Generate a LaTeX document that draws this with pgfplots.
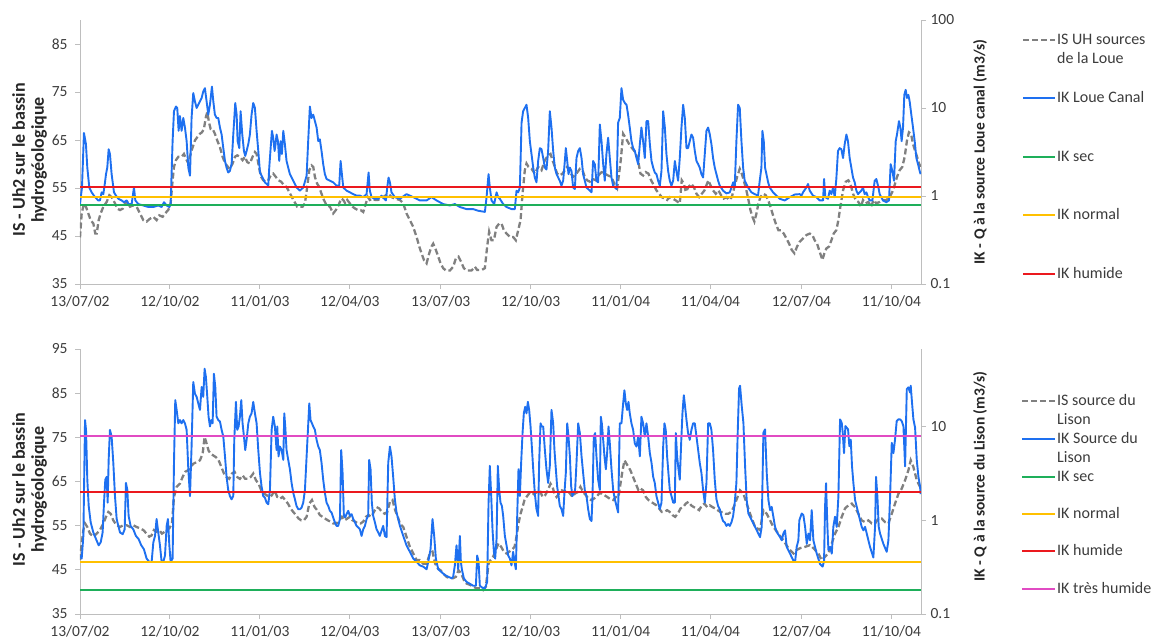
\documentclass[border=0pt]{standalone}
\usepackage{fontspec}
\setmainfont{Carlito}
\usepackage{pgfplots}
\usepackage{pgfplotstable}
\pgfplotsset{compat=1.18}

\definecolor{ikblue}{RGB}{30,112,240}
\definecolor{isgray}{RGB}{128,128,128}
\definecolor{ikred}{RGB}{235,25,30}
\definecolor{ikyellow}{RGB}{255,192,0}
\definecolor{ikgreen}{RGB}{30,175,90}
\definecolor{ikpink}{RGB}{225,75,195}
\definecolor{axgray}{RGB}{190,190,190}
\definecolor{txt}{RGB}{60,60,60}
\newcommand\tlfont{\fontsize{15.5}{18}\selectfont}

% ---------------- top panel : IK Loue Canal (m3/s) ----------------
\pgfplotstableread{
d q
0 0.81
2 1.25
4 5.2
6 3.9
7.4 2.1
9.4 1.25
11.8 1.1
15.2 0.97
18.5 0.89
20.2 0.89
21.9 1.1
23.6 1.05
25.3 1.43
26.3 1.77
27.6 2.1
29 3.4
30.3 3.0
32 1.77
34.4 1.1
36.4 1.01
38.8 0.93
42.1 0.89
44.5 0.85
47.2 0.89
48.9 0.81
52.3 0.81
54.6 1.25
56 0.89
59 0.81
64.1 0.78
69.1 0.75
74.2 0.75
79.2 0.78
82.6 0.75
85 0.85
87.7 0.78
90.4 0.75
91.7 0.8
93.7 4.2
95.1 9.2
97.1 10.4
98.4 10
99.8 5.5
101.1 8.1
102.8 5.5
104.5 7.7
106.2 6.0
107.9 4.2
109.6 2.1
111.3 1.7
112.9 7.7
114.6 14.8
116.3 11.9
118 10
119.7 10.9
121.4 11.9
123.1 13
124.7 15.4
126.4 16.8
128.1 11.9
129.8 8.4
131.5 10.9
133.5 17.5
134.9 11.9
136.5 8.4
138.2 7.7
139.9 7.7
141.6 6.0
143.3 5.0
145 3.5
146.7 2.5
148.3 2.1
150 1.85
151.7 1.93
153.4 2.3
155.1 5.0
157.1 11.4
158.5 8.4
159.5 4.2
161.2 3.5
162.5 9.2
164.2 5.0
165.9 3.25
167.2 2.85
168.6 3.25
170.3 3.9
171.9 5.0
173.6 8.4
175.3 11.4
177 10
178.7 5.5
180.4 3.25
182.1 1.85
183.7 1.7
185.4 1.56
187.1 1.43
188.8 1.37
190.5 1.31
191.5 2.1
192.9 3.5
194.2 5.5
195.5 4.6
196.9 3.25
197.9 3.9
198.9 5.0
200.3 4.2
201.6 2.5
203 4.2
204.3 3.0
205.7 5.5
207.3 3.9
209 2.5
210.7 2.1
212.4 1.77
215.8 1.49
219.1 1.25
222.5 1.15
225.9 1.25
229.3 1.7
230.9 4.2
232.6 10.4
234.3 7.7
236 8.4
237.7 7.1
239.4 6.0
241.1 4.2
242.7 4.4
244.4 3.25
246.1 2.3
247.8 1.77
249.5 1.56
252.9 1.49
256.2 1.43
259.6 1.31
262.3 1.31
263.7 2.5
265 1.77
266.4 1.25
269.7 1.15
273.1 1.1
276.5 1.05
279.8 1.01
283.2 1.01
286.6 0.97
290 1.05
292 1.85
293.3 1.15
295 0.97
298.4 0.93
301.8 0.93
305.1 1.01
309.5 0.89
310.9 1.25
312.2 1.62
313.6 1.43
315.2 1.1
318.6 0.97
323.7 0.93
330.4 1.05
337.2 0.97
343.9 0.89
350.7 0.89
355.7 0.97
360.8 0.89
367.5 0.81
374.3 0.78
379.3 0.81
384.4 0.75
391.1 0.71
397.9 0.71
402.9 0.68
409.7 0.66
411.4 0.97
413.4 1.77
414.7 1.25
416.4 0.89
419.1 0.81
421.5 1.1
423.2 0.97
424.8 0.93
428.2 0.81
431.6 0.75
436.6 0.71
440 0.71
441.7 1.15
443.4 1.1
445.1 1.25
446.8 6.8
448.4 9.2
450.1 10
451.8 10.9
453.5 7.7
455.2 4.2
458.6 2.1
460.2 1.62
461.9 1.43
463.6 2.5
465.3 3.5
467 3.4
468.7 2.7
470.4 2.1
472 2.0
473.7 3.25
475.4 9.2
477.1 6.0
478.8 3.25
480.5 2.1
482.2 1.77
485.5 1.49
487.2 1.31
488.9 1.49
490.6 2.5
491.6 3.5
493 2.5
494.3 1.77
495.7 2.1
497.3 1.93
499 1.25
500.7 1.2
502.4 2.7
504.1 3.25
505.8 3.5
507.5 2.7
509.1 1.77
510.8 1.49
512.5 1.25
515.9 1.15
517.6 1.1
519.2 2.5
520.9 2.3
522.6 1.49
524.3 1.43
526 6.5
527.7 4.2
529.4 2.3
531 1.49
532.7 3.0
534.4 4.6
536.1 2.7
537.8 1.62
539.5 1.31
541.2 1.25
542.9 1.2
544.5 6.8
546.2 7.7
547.9 16.8
549.6 12.4
551.3 11.4
553 10.9
554.6 8.4
556.3 6.0
558 4.2
559.7 3.5
561.4 3.25
563.1 2.7
564.8 2.3
566.5 3.9
568.1 6.0
569.8 4.2
571.5 2.7
573.2 7.1
574.9 7.1
576.6 3.9
578.3 2.5
580 2.1
581.6 1.85
583.3 1.77
585 1.49
586.7 1.31
588.4 1.93
590.1 9.2
591.8 6.0
593.4 3.0
595.1 1.93
596.8 1.49
598.5 1.31
600.2 1.49
601.9 2.5
603.5 1.93
605.2 1.49
606.9 2.7
608.6 6.0
610.3 10.9
612 7.7
613.7 3.5
615.3 3.5
617 4.2
618.7 5.0
620.4 4.6
622.1 3.25
623.8 2.5
625.5 2.3
627.1 2.1
628.8 1.77
630.5 1.62
632.2 3.0
633.9 5.5
635.6 6.0
637.3 5.0
638.9 3.9
640.6 2.7
642.3 2.1
644 1.77
645.7 1.49
647.4 1.31
650.7 1.15
654.1 1.07
657.5 1.1
659.2 1.25
660.9 1.43
662.5 1.25
664.2 4.2
665.9 10.9
667.6 10
669.3 4.2
671 2.1
672.6 1.49
676 1.25
679.4 1.1
682.8 1.05
686.1 1.01
687.8 1.49
689.5 2.1
690.5 5.5
691.9 4.2
693.2 2.1
694.6 1.77
696.3 1.43
697.9 1.25
701.3 1.1
708.1 0.93
713.1 0.89
718.2 0.97
723.3 1.04
728.3 1.05
730 1.01
731.6 1.1
735 1.25
736.7 1.37
738.4 1.15
741.7 1.01
745.1 0.97
748.5 0.89
751.9 0.89
752.9 1.56
754.2 0.97
756.9 0.93
758.6 1.15
760.3 1.05
762 1.25
763.7 0.97
765.3 1.56
767 3.25
768.7 3.5
770.4 3.4
772.1 2.7
773.8 3.9
775.5 5.0
777.1 4.2
778.8 2.7
780.5 2.1
782.2 1.62
783.9 1.43
785.6 1.15
787.3 1.05
788.9 1.1
790.6 1.15
792.3 1.25
794 1.05
795.7 1.1
797.4 0.97
799.1 0.89
801.8 0.89
804.1 1.49
805.8 1.56
807.5 1.31
809.2 1.05
812.5 0.89
815.9 0.85
818.6 0.89
820.3 2.3
822 1.93
823.7 1.49
825.4 4.2
826.7 5.0
828.7 7.1
830.1 6.0
831.4 4.2
832.8 6.0
834.1 14.1
835.5 16.1
836.8 13
838.2 14.1
839.5 11.9
841.2 8.4
842.9 6.0
844.6 4.2
846.3 2.7
848 2.3
849.6 1.93
850.6 1.77
}\topblue

% ---------------- top panel : IS UH sources de la Loue ----------------
\pgfplotstableread{
d s
0 44.7
1.7 49.7
4 51.8
6 51.1
8.4 49.7
10.8 48.3
13.5 47.6
15.5 45.5
16.9 45.5
18.9 48.3
20.9 49.7
23.6 51.1
27 52.1
29.7 53.5
32 53.1
33.7 52.5
35.4 51.8
37.8 50.7
40.5 50.4
43.2 50.7
45.5 51.8
47.9 52.1
50.6 51.1
53.9 51.4
57.3 51.1
60.7 49.7
64.1 48.3
67.4 48
70.8 48.6
74.2 49
77.5 48.3
80.2 49.3
83.6 49
86 49.7
89.3 50.4
91.7 51.8
93.7 56.6
95.1 59.4
97.1 60.8
99.5 61.5
102.8 61.5
105.2 62.1
107.2 61.1
109.6 60.1
111.9 62.1
114 63.5
116.3 64.9
118.7 65.6
121.4 66.3
123.4 66.6
125.4 67.3
127.4 69.8
128.8 70.8
130.5 68.7
132.2 67.3
134.2 67.3
136.5 66.3
138.9 64.9
141.6 63.5
144.3 61.5
147 60.1
149.7 59.4
151.7 59
154.4 60.1
156.8 61.5
159.1 61.8
161.8 61.5
164.5 60.8
166.9 61.5
169.2 60.4
171.9 60.1
174.6 61.5
177 62.5
178.7 62.1
181.4 59
183.4 57.3
185.4 56.6
188.1 56.3
190.5 56.6
192.9 57.6
195.5 58
198.2 57.3
200.9 56.6
203.6 56.3
206.3 55.6
209 55.2
211.7 54.2
214.4 53.1
217.1 52.1
219.8 51.1
222.5 51.1
225.2 51.1
227.6 51.8
229.9 55.2
232 58.7
234.3 59.7
236 59.4
237.7 57.3
240 55.9
242.1 55.2
244.4 53.8
246.8 52.5
249.5 51.4
252.9 51.1
256.2 49.7
258.9 50.4
261.6 51.4
264.3 52.8
266.4 52.5
268.4 51.8
270.4 52.5
273.1 51.8
275.8 51.1
278.5 50.7
281.2 50.4
283.9 50.4
286.6 50
289.3 51.8
291.3 53.1
293.3 52.5
296 52.8
298.7 52.5
301.4 52.5
304.1 52.8
306.8 53.1
309.5 53.5
312.2 53.8
315.2 53.1
318.6 52.8
323.7 52.5
327.1 51.8
330.4 49.7
333.8 48.3
337.2 46.9
340.6 44.8
343.3 42.8
345.6 41.4
348 40
350.7 39.3
353.4 41.4
355.7 42.8
357.4 43.4
360.1 42.1
362.5 40.7
364.8 39.3
367.5 38.3
370.2 37.8
374.3 37.8
377.6 38.6
380.3 40.3
383 40.7
385.7 39.6
388.4 38.3
391.1 37.8
396.2 37.8
399.6 38.6
401.9 37.9
406.3 37.9
409.7 38.3
412 42.8
414 45.9
416.4 44.1
418.8 44.1
421.5 46.9
424.2 47.6
426.5 47.6
428.9 46.2
431.6 45.5
435 44.8
438.3 44.8
441 44.1
443.4 46.2
445.8 48.3
447.8 53.8
450.1 58.7
451.8 60.1
453.8 59.4
456.9 59
460.2 58
463.6 59.4
467 58.7
470.4 60.8
473.7 61.8
476.1 62.1
478.1 60.8
480.5 59.4
482.8 58
485.5 57.6
488.2 58
490.6 58.7
493 59.4
495.7 58.3
499 57.3
502.4 58
505.8 59
508.5 58.7
510.8 57.3
513.2 56.6
515.9 56.3
518.6 56.9
522 56.6
524.3 57.6
527.7 58.3
531 58
534.4 57.6
537.8 57.3
541.2 55.6
543.5 54.9
545.5 58
547.2 60.8
549.6 66.3
551.6 65.6
553.6 64.9
556.3 63.9
559 63.2
561.7 62.5
564.4 61.1
567.1 58
569.8 57.6
572.5 58.3
575.2 58
577.9 56.6
580.6 55.6
583.3 54.5
586 53.8
588.7 53.1
591.4 52.8
594.1 52.5
596.8 53.1
599.5 52.8
602.2 52.5
604.9 52.1
606.9 51.8
608.9 56.6
611 55.9
613 54.2
615.7 55.2
618.4 55.9
621.1 55.2
623.8 53.8
626.5 53.1
629.2 53.8
631.9 54.5
633.9 55.6
635.9 56.6
637.9 55.6
640.6 54.5
643.3 53.8
646 54.5
648.7 53.5
651.4 52.8
654.1 53.1
656.8 52.5
659.5 53.1
662.2 55.2
664.9 57.3
667.6 59
669.6 58
671.6 56.6
674.3 54.5
676.4 52.5
678.4 50.4
680.4 49
682.4 48
684.5 49.7
686.5 51.8
688.5 53.1
691.2 53.8
693.9 53.5
696.3 52.5
698.6 51.1
701.3 49.3
704 47.6
706.7 46.2
709.4 46.2
712.1 45.5
714.8 44.5
717.5 43.4
720.2 42.1
722.9 41.4
725.6 42.8
728.3 43.8
731.6 44.5
735 45.2
738.4 45.5
741.1 45.2
743.4 44.1
745.8 43.4
748.5 41.7
751.2 40
753.2 41.4
755.2 42.4
757.9 42.8
760.3 44.1
762.6 45.5
765.3 46.2
767.4 48.3
769.4 51.1
772.1 54.5
774.8 56.3
777.5 56.6
779.5 55.9
782.2 53.8
784.9 52.5
787.6 52.1
790.3 51.1
792.3 52.5
795 51.8
797.7 52.1
800.4 51.1
803.1 52.5
805.8 51.8
809.2 52.1
812.5 52.5
815.9 52.5
819.3 53.1
822 54.2
824.3 55.6
826.7 57.3
829.4 58.7
832.1 59.4
834.5 61.5
836.8 64.9
838.8 66.6
840.9 66.3
842.9 64.2
844.9 62.8
847 61.5
849 60.1
850.6 59.4
}\topis

% ---------------- bottom panel : IK Source du Lison (m3/s) ----------------
\pgfplotstableread{
d q
0 0.42
1.7 0.39
3.4 0.68
5.1 11.7
6.1 9.2
7.4 2.7
8.8 1.42
10.8 0.95
13.5 0.74
16.2 0.63
18.9 0.54
20.9 0.58
22.9 0.74
24.3 1.54
25.6 2.7
27 2.9
28 1.54
29 4.4
30.3 9.2
32 7.8
33.7 4.1
35.4 1.81
37.1 1.03
38.8 0.87
40.5 0.74
43.2 0.71
45.2 0.8
46.5 2.5
47.9 2.1
49.2 1.11
51.2 0.87
53.9 0.8
56.6 0.68
59.3 0.63
62 0.54
64.7 0.49
67.4 0.39
70.1 0.36
72.5 0.36
74.2 0.58
75.9 0.68
77.5 1.03
79.2 0.74
80.9 0.54
82.6 0.36
84.3 0.36
86 0.42
87.7 0.87
89 1.03
90.4 0.54
91.7 0.36
93.7 0.39
95.1 4.1
96.4 19.1
97.8 15
99.5 10.8
101.1 11.7
102.8 10.8
104.5 11.7
106.2 10.8
107.9 9.2
109.6 3.5
111.3 1.81
112.9 6.1
114.6 29.8
116.3 22.4
118 20.7
119.7 17.6
121.4 15
123.1 26.4
124.7 20.7
126.1 41.3
127.4 33.7
128.8 20.7
130.1 12.7
131.5 10
132.8 11.7
134.2 10.8
135.5 36.5
136.9 26.4
138.2 12.7
139.9 11.7
141.6 11.3
143.3 9.2
145 7.8
146.7 4.8
148.3 2.9
150 2.1
151.7 1.81
153.4 1.67
155.1 1.81
156.1 7.2
157.8 18.3
159.1 9.2
160.5 10
161.8 12.7
163.2 19.1
164.5 10.8
165.9 7.8
167.2 5.6
168.6 7.2
170.3 10.8
171.9 12.7
173.6 13.8
175.3 18.3
177 13.8
178.7 10.8
180.4 5.6
182.1 3.2
183.7 2.3
185.4 1.81
187.1 1.74
188.8 1.54
190.5 1.48
192.2 2.1
193.9 9.2
195.5 12.7
197.2 10
198.9 5.6
199.6 10
200.9 4.8
202.3 6.1
204 5.6
205.7 4.4
206.7 13.8
207.7 10
209 5.6
210.7 4.4
212.4 3.5
214.1 2.5
215.8 1.96
217.5 1.67
219.1 1.42
220.8 1.31
222.5 1.31
224.2 1.36
225.9 1.54
227.6 2.1
229.3 4.8
232 17.6
233.3 11.7
234.7 10.8
236 10
237.7 9.2
239.4 7.2
241.1 6.1
242.7 5.6
244.4 4.1
246.1 2.7
247.8 1.96
249.5 1.54
251.2 1.42
252.9 1.26
254.5 1.21
256.2 1.07
257.9 0.95
259.6 0.87
261.3 0.87
263 1.03
264.3 5.6
265.7 3.2
267 1.11
268.4 1.07
269.7 1.16
271.4 1.26
273.1 1.11
274.8 1.16
276.5 1.03
278.2 0.95
279.8 0.87
281.5 0.84
283.2 0.8
284.9 0.68
286.6 0.8
288.3 0.87
290 1.03
291.6 1.11
292.6 4.4
294 3.5
295.3 1.54
296.7 1.11
298.4 0.95
300.1 0.8
301.8 0.74
303.4 0.68
305.1 0.77
306.8 0.87
308.5 0.68
310.2 0.66
311.9 4.1
313.6 6.1
315.2 4.8
316.9 2.9
318.6 1.67
320.3 1.21
322 1.03
323.7 0.87
327.1 0.68
330.4 0.54
333.8 0.46
337.2 0.39
340.6 0.36
343.9 0.33
347.3 0.32
350.7 0.3
352.4 0.36
354.7 0.49
356.7 1.03
358.4 0.68
360.1 0.39
362.5 0.3
365.8 0.28
369.2 0.26
372.6 0.25
376 0.24
377.6 0.25
379.3 0.33
381 0.54
382.7 0.3
384.4 0.68
385.4 0.36
386.4 0.3
388.4 0.24
391.1 0.22
394.5 0.21
397.9 0.2
400.6 0.2
401.9 0.42
403.3 0.36
404.6 0.2
407.3 0.19
410 0.19
412 0.22
413.4 1.54
414.7 3.8
416.1 1.81
417.4 0.8
418.8 0.46
420.1 0.39
421.5 0.63
422.8 3.8
424.2 2.1
425.5 1.54
426.9 1.42
428.2 1.11
429.9 0.68
431.6 0.54
433.3 0.42
435 0.39
436.6 0.33
438.3 0.46
439.7 0.36
441 0.3
442.4 1.11
443.7 3.5
445.1 1.81
446.4 4.1
447.8 8.5
449.1 13.8
450.5 16.2
451.8 13.8
453.2 18.3
454.5 15
455.9 10
457.2 6.1
458.6 3.5
460.2 1.96
461.9 1.31
463.6 1.11
464.6 4.1
466 10.8
467.3 10
468.7 10
470.4 5.6
472 3.5
473.7 2.5
475.4 3.8
477.1 15
478.8 10.8
480.1 5.6
481.5 3.5
482.8 2.3
484.2 1.81
485.5 1.42
487.2 1.31
488.9 1.11
490.2 1.96
491.6 3.2
493 10.8
494.3 7.8
495.7 4.8
497 2.3
498.3 1.81
499.7 1.96
501 2.1
502.4 4.1
504.1 10.8
505.8 8.5
507.5 4.8
509.1 3.2
510.8 2.1
512.5 1.81
514.2 1.31
515.9 1.03
517.6 0.98
518.6 1.81
519.9 7.8
521.3 8.5
522.6 4.8
524.3 2.7
526 2.1
527 12.7
528 10.8
529.4 7.2
530.7 4.8
532.1 3.5
533.4 5.2
534.8 10
536.1 6.6
537.8 3.5
539.5 2.1
541.2 1.67
542.9 1.42
544.5 1.21
546.2 10.8
547.9 10.8
549.6 17.6
550.9 24.3
552.3 17.6
553.6 15
555 18.3
556.3 13.8
558 10.8
559.7 9.2
561.4 6.6
563.1 6.1
564.8 7.8
566.5 4.8
568.1 12.7
569.8 10.8
571.5 7.8
573.2 10.8
574.9 7.8
576.6 5.2
578.3 4.1
580 2.9
581.6 2.5
583.3 1.81
585 1.54
586.7 1.31
588.4 1.54
590.1 6.1
591.4 10.8
592.7 9.2
594.1 4.8
595.4 3.2
596.8 2.1
598.5 1.81
600.2 1.54
601.9 1.54
602.9 8.5
604.2 4.8
605.6 3.5
606.9 2.7
608.3 6.6
609.6 13.8
611 21.5
612.3 16.2
613.7 11.7
615.3 8.5
617 7.2
618.7 9.2
620.4 10.8
622.1 10.8
623.8 7.8
625.5 5.6
627.1 4.1
628.8 3.2
630.5 2.1
632.2 1.54
633.9 2.5
635.6 10.8
637.3 10.8
638.9 9.2
640.6 5.6
642.3 2.7
644 1.67
645.7 1.42
647.4 1.31
649 1.11
650.7 0.98
652.4 0.95
654.1 0.87
655.8 0.91
657.5 0.87
659.2 0.95
660.9 1.11
662.5 1.54
664.2 2.5
665.6 9.2
666.9 25.4
667.9 27.2
669.6 16.5
671.3 10.9
673 3.75
674.6 1.64
676.3 1.18
678 1.09
681.4 0.92
684.8 0.78
688.1 0.66
689.8 0.85
691.5 8.55
693.2 9.3
694.9 3.17
696.6 1.64
698.3 1.28
699.9 1.39
701.6 1.09
703.3 0.85
705 0.75
708.4 0.66
710.1 0.61
711.7 0.72
713.4 0.78
715.1 0.52
718.5 0.44
721.9 0.37
723.6 0.36
725.2 0.52
726.9 0.61
727.9 1.0
730.3 1.18
732 1.13
733.7 0.85
735.4 0.56
737.1 0.72
738.7 0.61
740.4 1.28
742.1 0.61
745.5 0.44
748.9 0.34
751.5 0.32
752.9 0.37
753.9 1.39
754.9 2.48
756.3 0.85
757.3 0.48
759 0.52
760.7 0.44
762.3 0.85
764 1.09
765.7 0.85
767.4 1.78
769.1 11.9
770.8 10.9
771.8 8.55
773.1 5.2
774.5 10.1
775.8 9.7
777.2 9.3
778.5 6.15
779.9 7.25
781.2 3.75
782.6 2.48
784.3 1.64
786 1.39
787.6 1.18
789.3 1.0
791 0.85
792.7 0.78
794.4 0.85
796.1 0.72
799.4 0.52
802.8 0.40
804.5 0.85
805.5 2.9
806.9 1.78
808.2 0.85
809.6 0.72
812.9 0.56
816.3 0.46
818 0.61
819.7 1.78
821.4 6.7
823.1 5.2
824.7 7.25
826.4 11.4
828.1 11.9
829.8 11.9
831.5 11.4
833.2 10.1
834.9 3.75
836.6 25
838.2 26.1
839.9 23
840.6 27.2
841.9 18
843.3 11.9
845 9.7
846.7 4.4
848.4 2.9
850 2.3
850.6 1.9
}\botblue

% ---------------- bottom panel : IS source du Lison ----------------
\pgfplotstableread{
d s
0 47.2
1.7 51.0
3.4 54.0
5.1 55.5
7.4 54.7
10.1 53.2
13.5 52.5
16.9 53.2
20.2 54.0
23.6 55.5
26.3 57.0
28.7 58.1
31 57.7
33.7 56.2
37.1 55.1
40.5 54.7
43.8 55.1
47.2 55.1
50.6 54.7
53.9 55.1
57.3 54.7
60.7 54.4
64.1 54.0
67.4 53.2
70.1 52.5
72.5 52.8
74.8 54.0
77.5 53.6
80.2 54.0
82.9 53.2
85.6 53.6
87.7 54.0
90.4 54.4
93.1 55.5
95.1 61.5
97.8 63.8
101.1 64.5
103.8 66.0
106.5 67.2
109.2 67.5
111.9 68.3
114.6 69.0
118 69.4
121.4 69.8
124.1 71.3
126.1 75.1
128.1 73.6
130.1 72.0
132.2 71.3
134.9 70.9
137.6 70.5
140.3 69.8
143 68.3
145.7 66.8
148.3 66.0
151 65.6
153.7 66.8
156.4 67.2
159.1 66.0
161.8 65.6
164.5 66.4
167.2 65.6
169.9 65.6
172.6 66.0
175.3 66.8
178 65.3
180.7 64.5
183.4 63.0
186.1 62.3
188.8 61.9
191.5 61.5
194.2 61.9
196.9 63.0
199.6 61.5
202.3 61.1
205 61.5
207.7 60.8
210.4 60.0
213.1 58.9
215.8 58.1
218.5 57.4
221.2 56.6
223.9 56.2
226.5 56.2
229.3 57.0
232 60.0
234.7 60.8
237.4 59.2
240 58.5
242.7 57.4
245.4 57.0
248.1 56.6
250.8 56.2
253.5 55.9
256.2 55.5
259.6 55.5
262.3 56.2
265 57.0
267.7 56.2
270.4 56.6
273.1 57.0
275.8 56.2
278.5 55.9
281.2 55.5
283.9 55.5
286.6 55.9
289.3 57.0
292 57.4
294.7 57.0
297.4 58.1
300.1 59.2
302.8 58.9
305.5 58.1
308.2 57.7
310.9 58.1
313.6 60.4
316.2 60.8
318.9 58.5
321.6 57.0
323.7 55.5
327.1 54.7
330.4 52.5
333.8 50.2
337.2 48.7
340.6 47.2
343.9 47.2
347.3 46.4
350.7 46.4
354 48.7
356.7 49.1
359.4 46.4
362.1 45.3
364.8 44.9
367.5 44.2
370.9 43.4
374.3 43.1
377.6 43.1
380.3 43.4
383 44.9
385.7 44.2
388.4 42.7
391.1 41.9
394.5 41.6
397.9 41.2
401.2 40.8
404.6 40.8
408 40.4
410.7 41.2
413.4 46.4
415.4 47.2
418.1 48.0
420.8 49.5
423.5 51.0
426.2 50.2
428.9 49.1
431.6 48.7
434.3 49.1
437 49.5
439.7 50.2
441.7 52.5
443.7 55.5
445.8 57.7
447.8 59.2
449.8 60.8
451.8 61.5
454.5 62.3
457.2 61.9
459.9 62.3
462.6 62.6
465.3 63.0
468 61.5
470.7 61.9
473.4 63.0
476.1 64.5
478.1 63.8
480.1 62.3
482.2 61.5
484.9 62.3
487.6 63.0
490.2 62.6
493 63.0
495.7 62.3
498.3 61.5
501 62.3
503.7 62.6
506.4 63.8
509.1 62.6
511.8 61.9
514.5 61.1
517.2 60.8
519.9 61.1
522.6 61.5
525.3 62.3
528 62.3
530.7 61.9
533.4 61.5
536.1 61.1
539.5 60.8
542.2 61.5
544.9 61.5
546.9 64.5
549 67.5
551 69.8
553 69.0
555 68.3
557 67.5
559.7 66.0
562.4 64.5
565.1 63.0
567.1 63.4
569.8 63.0
572.5 61.5
575.2 60.8
577.9 60.4
580.6 60.0
583.3 59.6
586 58.9
588.7 58.1
591.4 58.1
594.1 58.5
596.8 58.1
599.5 57.4
602.2 57.0
604.9 57.7
607.6 58.9
610.3 59.2
613 60.0
615.7 60.4
618.4 59.6
621.1 59.2
623.8 58.9
626.5 58.5
629.2 59.6
631.9 60.0
634.6 59.2
637.3 59.6
640 59.2
642.6 58.9
645.3 58.5
648 58.1
650.7 58.1
653.4 57.7
656.1 57.7
658.8 58.1
661.5 59.2
664.2 60.8
667.9 63.0
671.3 62.2
674.6 60.0
678 57.7
683.1 54.7
688.1 54.0
691.5 58.5
694.9 57.7
698.3 56.2
701.6 54.7
706.7 53.2
711.7 51.7
716.8 49.9
721.9 48.7
725.2 49.5
728.6 49.9
733.7 50.2
738.7 50.6
742.1 49.9
747.2 48.7
750.5 47.2
753.9 48.0
757.3 48.7
760.7 51.0
764 53.2
767.4 54.7
770.8 57.0
774.1 58.9
777.5 59.6
780.9 60.0
784.3 59.2
787.6 57.7
791 56.2
794.4 55.8
797.8 56.2
801.1 55.5
804.5 55.5
807.9 56.6
811.3 56.6
814.6 55.8
818 55.5
821.4 57.7
824.7 60.0
828.1 62.2
831.5 63.4
834.9 65.3
838.2 67.5
840.6 69.8
843.3 68.3
846.7 65.3
850 63.8
}\botis

\tikzset{
  isline/.style={isgray, line width=2.3pt, dash pattern=on 6pt off 3pt},
  ikline/.style={ikblue, line width=1.9pt, line join=round},
  thr/.style={line width=2pt},
}
\pgfplotsset{
  mybase/.style={
    scale only axis, width=841pt, xmin=0, xmax=851,
    axis line style={draw=axgray, line width=0.9pt},
    tick style={draw=axgray, line width=0.9pt},
    major tick length=5pt, tick align=outside,
    tick label style={font=\tlfont, text=txt},
  },
  myleft/.style={mybase,
    axis x line*=bottom, axis y line*=left, ymin=35,
    xtick={0,91,182,273,365,456,547,638,730,821},
    xticklabels={13/07/02,12/10/02,11/01/03,12/04/03,13/07/03,12/10/03,11/01/04,11/04/04,12/07/04,11/10/04},
    xticklabel style={yshift=-3pt},
    yticklabel style={xshift=-4pt},
    ylabel style={at={(axis description cs:0,0.5)}, anchor=center,
      font=\bfseries\fontsize{18}{19}\selectfont, text=black!85, align=center,
      yshift=50.5pt, xshift=-8pt},
  },
  myright/.style={mybase,
    axis x line=none, axis y line*=right, ymin=0.1,
    yminorticks=false, yticklabel pos=right,
    yticklabel style={xshift=1pt},
    ylabel style={at={(axis description cs:1,0.5)}, anchor=center,
      font=\bfseries\tlfont, text=black!85, yshift=-59pt},
  },
}

\begin{document}
\begin{tikzpicture}
\useasboundingbox (0,0) rectangle (1156pt,644pt);

% ===== top panel =====
\begin{axis}[myleft, at={(80pt,360pt)}, anchor=south west, height=264pt,
  /pgf/number format/assume math mode=true,
  ymax=90, ytick={35,45,55,65,75,85},
  ylabel={IS - Uh2 sur le bassin\\hydrogéologique}]
  \addplot[isline] table[x=d, y=s] {\topis};
\end{axis}
\begin{axis}[ymode=log, myright, at={(80pt,360pt)}, anchor=south west, height=264pt,
  /pgf/number format/assume math mode=true,
  ymax=100, ytick={0.1,1,10,100}, yticklabels={0.1,1,10,100},
  ylabel={IK - Q à la source Loue canal (m3/s)}]
  \addplot[ikline] table[x=d, y=q] {\topblue};
  \addplot[thr, ikgreen] coordinates {(0,0.78) (851,0.78)};
  \addplot[thr, ikyellow] coordinates {(0,0.98) (851,0.98)};
  \addplot[thr, ikred] coordinates {(0,1.27) (851,1.27)};
\end{axis}

% ===== bottom panel =====
\begin{axis}[myleft, at={(80pt,30pt)}, anchor=south west, height=265pt,
  /pgf/number format/assume math mode=true,
  ymax=95, ytick={35,45,55,65,75,85,95},
  ylabel={IS - Uh2 sur le bassin\\hydrogéologique}]
  \addplot[isline] table[x=d, y=s] {\botis};
\end{axis}
\begin{axis}[ymode=log, myright, at={(80pt,30pt)}, anchor=south west, height=265pt,
  /pgf/number format/assume math mode=true,
  ymax=67, ytick={0.1,1,10}, yticklabels={0.1,1,10},
  ylabel={IK - Q à la source du Lison (m3/s)},
  ylabel style={xshift=5pt}]
  \addplot[ikline] table[x=d, y=q] {\botblue};
  \addplot[thr, ikgreen] coordinates {(0,0.182) (851,0.182)};
  \addplot[thr, ikyellow] coordinates {(0,0.356) (851,0.356)};
  \addplot[thr, ikred] coordinates {(0,1.98) (851,1.98)};
  \addplot[thr, ikpink] coordinates {(0,7.93) (851,7.93)};
\end{axis}

% ===== legends =====
\begin{scope}[every node/.style={anchor=base west, font=\fontsize{16}{18}\selectfont, text=txt, inner sep=0pt}]
  % top
  \draw[isline] (1023pt,604pt) -- (1055pt,604pt);
  \node at (1057pt,599pt) {IS UH sources};
  \node at (1057pt,580pt) {de la Loue};
  \draw[ikline] (1023pt,546pt) -- (1055pt,546pt);
  \node at (1057pt,541pt) {IK Loue Canal};
  \draw[thr, ikgreen] (1023pt,487pt) -- (1055pt,487pt);
  \node at (1057pt,482pt) {IK sec};
  \draw[thr, ikyellow] (1023pt,429pt) -- (1055pt,429pt);
  \node at (1057pt,424pt) {IK normal};
  \draw[thr, ikred] (1023pt,370pt) -- (1055pt,370pt);
  \node at (1057pt,365pt) {IK humide};
  % bottom
  \draw[isline] (1022pt,243pt) -- (1055pt,243pt);
  \node at (1057pt,238pt) {IS source du};
  \node at (1057pt,219pt) {Lison};
  \draw[ikline] (1022pt,205pt) -- (1055pt,205pt);
  \node at (1057pt,200pt) {IK Source du};
  \node at (1057pt,181pt) {Lison};
  \draw[thr, ikgreen] (1022pt,167pt) -- (1055pt,167pt);
  \node at (1057pt,162pt) {IK sec};
  \draw[thr, ikyellow] (1022pt,130pt) -- (1055pt,130pt);
  \node at (1057pt,125pt) {IK normal};
  \draw[thr, ikred] (1022pt,93pt) -- (1055pt,93pt);
  \node at (1057pt,88pt) {IK humide};
  \draw[thr, ikpink] (1022pt,55pt) -- (1055pt,55pt);
  \node at (1057pt,50pt) {IK très humide};
\end{scope}
\end{tikzpicture}
\end{document}
